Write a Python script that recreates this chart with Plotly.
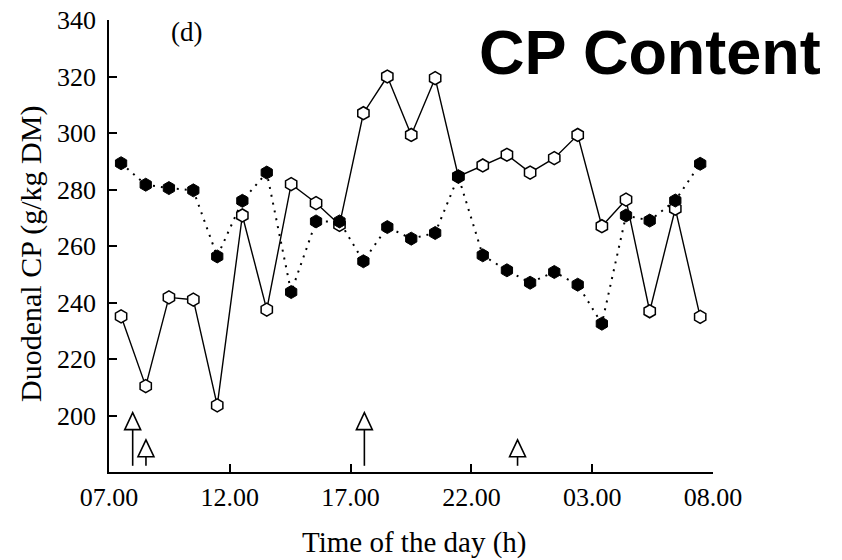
import plotly.graph_objects as go

# Sampling times, hours after 07.00
time_h = [0.50, 1.52, 2.48, 3.49, 4.48, 5.52, 6.53, 7.54, 8.57, 9.54,
          10.53, 11.52, 12.51, 13.50, 14.46, 15.47, 16.47, 17.43, 18.43,
          19.40, 20.40, 21.40, 22.38, 23.44, 24.47]

# Duodenal CP (g/kg DM), open symbols / solid line
cp_open = [235.1, 210.4, 241.8, 241.0, 203.6, 270.8, 237.5, 281.9, 275.2,
           267.5, 307.0, 320.0, 299.3, 319.4, 284.6, 288.5, 292.3, 286.0,
           291.1, 299.3, 267.0, 276.4, 236.9, 273.2, 234.9]

# Duodenal CP (g/kg DM), filled symbols / dotted line
cp_filled = [289.3, 281.7, 280.5, 279.7, 256.3, 276.0, 286.0, 243.7, 268.7,
             268.7, 254.6, 266.7, 262.6, 264.6, 284.6, 256.7, 251.4, 247.0,
             250.8, 246.3, 232.5, 270.8, 269.0, 276.1, 289.1]

# Feeding times (hours after 07.00) and arrow tip heights
feed_h = [0.98, 1.53, 10.57, 16.91]
feed_tip = [201.0, 191.4, 201.0, 191.4]

x_tick_pos = [0, 5, 10, 15, 20, 25]
x_tick_text = ["07.00", "12.00", "17.00", "22.00", "03.00", "08.00"]
y_tick_vals = [200, 220, 240, 260, 280, 300, 320, 340]

SERIF = "Liberation Serif, Times New Roman, serif"
BLACK = "#000000"

# Plot-area geometry in pixels (left edge, width, bottom edge from top, height)
PLOT_L, PLOT_W = 109, 604
PLOT_B, PLOT_H = 472, 452


def px_to_paper(px, py):
    return (px - PLOT_L) / PLOT_W, (PLOT_B - py) / PLOT_H


fig = go.Figure()

fig.add_trace(go.Scatter(
    x=time_h, y=cp_open, mode="lines+markers",
    line=dict(color=BLACK, width=1.4),
    marker=dict(symbol="hexagon", size=13, color="white",
                line=dict(color=BLACK, width=1.5)),
    hoverinfo="x+y",
))

fig.add_trace(go.Scatter(
    x=time_h, y=cp_filled, mode="lines+markers",
    line=dict(color=BLACK, width=2, dash="2px,6px"),
    marker=dict(symbol="hexagon", size=13, color=BLACK,
                line=dict(color=BLACK, width=1)),
    hoverinfo="x+y",
))

# Feeding arrows: stem from near the x axis up to an open triangular head
arrow_base = 182.2
head_h = 6.0
head_hw = 0.33
shapes = []
for t, tip in zip(feed_h, feed_tip):
    shapes.append(dict(type="line", xref="x", yref="y",
                       x0=t, x1=t, y0=arrow_base, y1=tip - head_h,
                       line=dict(color=BLACK, width=1.6)))
    shapes.append(dict(type="path", xref="x", yref="y",
                       path=f"M {t - head_hw},{tip - head_h} L {t + head_hw},{tip - head_h} L {t},{tip} Z",
                       fillcolor="white", line=dict(color=BLACK, width=1.6)))

d_x, d_y = px_to_paper(186.5, 32)
t_x, t_y = px_to_paper(823, 52)
yt_x, yt_y = px_to_paper(31, 254)
xt_x, xt_y = px_to_paper(414, 542)

fig.update_layout(
    width=842, height=560,
    margin=dict(l=PLOT_L, r=842 - PLOT_L - PLOT_W, t=PLOT_B - PLOT_H, b=560 - PLOT_B),
    plot_bgcolor="white", paper_bgcolor="white",
    showlegend=False,
    shapes=shapes,
    xaxis=dict(
        range=[0, 25], tickvals=x_tick_pos, ticktext=x_tick_text,
        ticks="inside", ticklen=8, tickwidth=1.5, tickcolor=BLACK,
        showline=True, linecolor=BLACK, linewidth=2,
        showgrid=False, zeroline=False, automargin=False,
        tickfont=dict(family=SERIF, size=26, color=BLACK),
        ticklabelstandoff=1,
    ),
    yaxis=dict(
        range=[180, 340], tickvals=y_tick_vals,
        ticks="inside", ticklen=8, tickwidth=1.5, tickcolor=BLACK,
        showline=True, linecolor=BLACK, linewidth=1.8,
        showgrid=False, zeroline=False, automargin=False,
        tickfont=dict(family=SERIF, size=26, color=BLACK),
        ticklabelstandoff=6,
    ),
    annotations=[
        dict(text="Time of the day (h)", xref="paper", yref="paper",
             x=xt_x, y=xt_y,
             xanchor="center", yanchor="middle", showarrow=False,
             font=dict(family=SERIF, size=29, color=BLACK)),
        dict(text="Duodenal CP (g/kg DM)", xref="paper", yref="paper",
             x=yt_x, y=yt_y, textangle=-90,
             xanchor="center", yanchor="middle", showarrow=False,
             font=dict(family=SERIF, size=30, color=BLACK)),
        dict(text="(d)", xref="paper", yref="paper",
             x=d_x, y=d_y,
             xanchor="center", yanchor="middle", showarrow=False,
             font=dict(family=SERIF, size=27, color=BLACK)),
        dict(text="<b>CP Content</b>", xref="paper", yref="paper",
             x=t_x, y=t_y,
             xanchor="right", yanchor="middle", showarrow=False,
             font=dict(family="Liberation Sans, Arial, sans-serif", size=63, color=BLACK)),
    ],
)

fig.write_html("out.html")
